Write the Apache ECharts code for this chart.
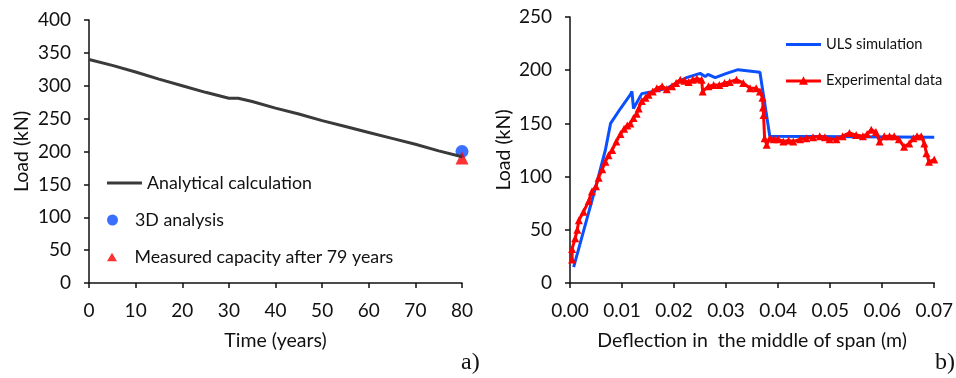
<!DOCTYPE html>
<html>
<head>
<meta charset="utf-8">
<script src="https://cdn.jsdelivr.net/npm/echarts@6/dist/echarts.min.js"></script>
<style>
  html, body { margin: 0; padding: 0; background: #fff; }
  #main { width: 956px; height: 378px; }
</style>
</head>
<body>
<div id="main"></div>
<script>
// a) load capacity over time
var years = [0, 5, 10, 15, 20, 25, 30, 32, 35, 40, 45, 50, 55, 60, 65, 70, 75, 80];
var analyticalLoad = [340, 331, 321, 310, 300, 290, 281, 281, 276, 266, 257, 247, 238, 229, 220, 211, 201, 192];
var analysis3D = [[80, 200]];
var measured79 = [[80, 190]];

// b) load vs deflection
var ulsDefl = [0.0007, 0.0052, 0.0068, 0.0078, 0.0097, 0.0116, 0.0119, 0.0122, 0.0138, 0.0160, 0.0186, 0.0224, 0.0250, 0.0260, 0.0265, 0.0279, 0.0301, 0.0323, 0.0365, 0.0384, 0.0700];
var ulsLoad = [15, 95, 125, 150, 164, 177, 180, 164, 178, 180, 183, 193, 197, 194, 196, 193, 197, 200.5, 198, 138, 137];

var expDefl = [0.0004, 0.0004, 0.0010, 0.0014, 0.0017, 0.0026, 0.0036, 0.0042, 0.0050, 0.0055, 0.0062, 0.0068, 0.0074, 0.0081, 0.0089, 0.0097, 0.0104, 0.0110, 0.0116, 0.0122, 0.0128, 0.0132, 0.0138, 0.0145, 0.0151, 0.0159, 0.0167, 0.0177, 0.0186, 0.0196, 0.0204, 0.0212, 0.0220, 0.0228, 0.0236, 0.0244, 0.0253, 0.0255, 0.0266, 0.0276, 0.0287, 0.0297, 0.0307, 0.0320, 0.0333, 0.0346, 0.0358, 0.0365, 0.0370, 0.0371, 0.0372, 0.0374, 0.0378, 0.0384, 0.0392, 0.0400, 0.0410, 0.0420, 0.0429, 0.0442, 0.0454, 0.0467, 0.0480, 0.0490, 0.0499, 0.0512, 0.0524, 0.0537, 0.0550, 0.0563, 0.0571, 0.0579, 0.0588, 0.0595, 0.0604, 0.0614, 0.0623, 0.0632, 0.0642, 0.0652, 0.0660, 0.0667, 0.0675, 0.0681, 0.0685, 0.0690, 0.0700];
var expLoad = [22, 32, 42, 50, 59, 67, 77, 86, 91, 99, 107, 114, 120, 125, 133, 140, 145, 148, 150, 155, 159, 164, 171, 174, 177, 180, 183, 185, 182, 185, 188, 191, 190, 189, 191, 192, 191, 180, 185, 186, 186, 188, 189, 191, 188, 183, 183, 180, 174, 165, 158, 136, 130, 136, 135, 135, 133, 134, 133, 135, 136, 137, 138, 137, 135, 135, 138, 141, 139, 138, 140, 144, 142, 133, 138, 138, 138, 135, 128, 131, 136, 138, 138, 131, 122, 114, 116];

function zip(xs, ys) {
  return xs.map(function (x, i) { return [x, ys[i]]; });
}

var font = 'Lato';
var axisColor = '#111';

function valueAxis(grid, min, max, interval, name, gap, fmt) {
  return {
    type: 'value',
    gridIndex: grid,
    min: min,
    max: max,
    interval: interval,
    name: name,
    nameLocation: 'middle',
    nameGap: gap,
    nameTextStyle: { fontFamily: font, fontSize: 19.5, color: '#111' },
    axisLine: { show: true, onZero: false, lineStyle: { color: axisColor, width: 1.5 } },
    axisTick: { show: true, inside: false, length: 5, lineStyle: { color: axisColor, width: 1.5 } },
    axisLabel: { fontFamily: font, fontSize: 19, color: '#111', margin: 18, formatter: fmt },
    splitLine: { show: false }
  };
}

// one legend per entry so each icon can have its own size
function legendItem(name, left, top, icon, w, h, size) {
  return {
    left: left, top: top, itemWidth: w, itemHeight: h,
    textStyle: { fontFamily: font, fontSize: size, color: '#111' },
    data: [{ name: name, icon: icon }]
  };
}

var lineIcon = 'path://M0,0 L35,0 L35,3 L0,3 Z';
var triIcon = 'path://M5,0 L10,8.5 L0,8.5 Z';
var triLineIcon = 'path://M0,3.2 L35,3.2 L35,6.2 L0,6.2 Z M17.5,0 L22,8.5 L13,8.5 Z';

var chart = echarts.init(document.getElementById('main'));

var option = {
  animation: false,
  backgroundColor: '#fff',
  grid: [
    { left: 89, right: 494, top: 20, bottom: 95 },
    { left: 570, right: 21, top: 17, bottom: 95 }
  ],
  xAxis: [
    valueAxis(0, 0, 80, 10, 'Time (years)', 48),
    valueAxis(1, 0, 0.07, 0.01, 'Deflection in  the middle of span (m)', 48, function (v) { return v.toFixed(2); })
  ],
  yAxis: [
    valueAxis(0, 0, 400, 50, 'Load (kN)', 57),
    valueAxis(1, 0, 250, 50, 'Load (kN)', 56)
  ],
  legend: [
    legendItem('Analytical calculation', 102, 169, lineIcon, 35, 3, 17.8),
    legendItem('3D analysis', 102, 206, 'circle', 35, 11, 17.8),
    legendItem('Measured capacity after 79 years', 102, 243, triIcon, 35, 8.5, 17.8),
    legendItem('ULS simulation', 781, 32, lineIcon, 35, 3, 14.7),
    legendItem('Experimental data', 781, 68, triLineIcon, 35, 8.5, 14.7)
  ],
  graphic: [
    { type: 'text', left: 461, top: 351, style: { text: 'a)', font: '24px "Liberation Serif"', fill: '#111' } },
    { type: 'text', left: 935, top: 351, style: { text: 'b)', font: '24px "Liberation Serif"', fill: '#111' } }
  ],
  series: [
    {
      name: 'Analytical calculation',
      type: 'line',
      xAxisIndex: 0, yAxisIndex: 0,
      data: zip(years, analyticalLoad),
      symbol: 'none',
      lineStyle: { color: '#3a3a3a', width: 3 },
      itemStyle: { color: '#3a3a3a' }
    },
    {
      name: '3D analysis',
      type: 'scatter',
      xAxisIndex: 0, yAxisIndex: 0,
      data: analysis3D,
      symbol: 'circle',
      symbolSize: 13,
      itemStyle: { color: '#0a4cff' }
    },
    {
      name: 'Measured capacity after 79 years',
      type: 'scatter',
      xAxisIndex: 0, yAxisIndex: 0,
      data: measured79,
      symbol: 'triangle',
      symbolSize: 13,
      itemStyle: { color: '#ff0000' }
    },
    {
      name: 'ULS simulation',
      type: 'line',
      xAxisIndex: 1, yAxisIndex: 1,
      data: zip(ulsDefl, ulsLoad),
      symbol: 'none',
      lineStyle: { color: '#0a50ff', width: 3 },
      itemStyle: { color: '#0a50ff' }
    },
    {
      name: 'Experimental data',
      type: 'line',
      xAxisIndex: 1, yAxisIndex: 1,
      data: zip(expDefl, expLoad),
      symbol: 'triangle',
      symbolSize: 8,
      showAllSymbol: true,
      lineStyle: { color: '#ff0000', width: 3 },
      itemStyle: { color: '#ff0000' }
    }
  ]
};

chart.setOption(option);
</script>
</body>
</html>
